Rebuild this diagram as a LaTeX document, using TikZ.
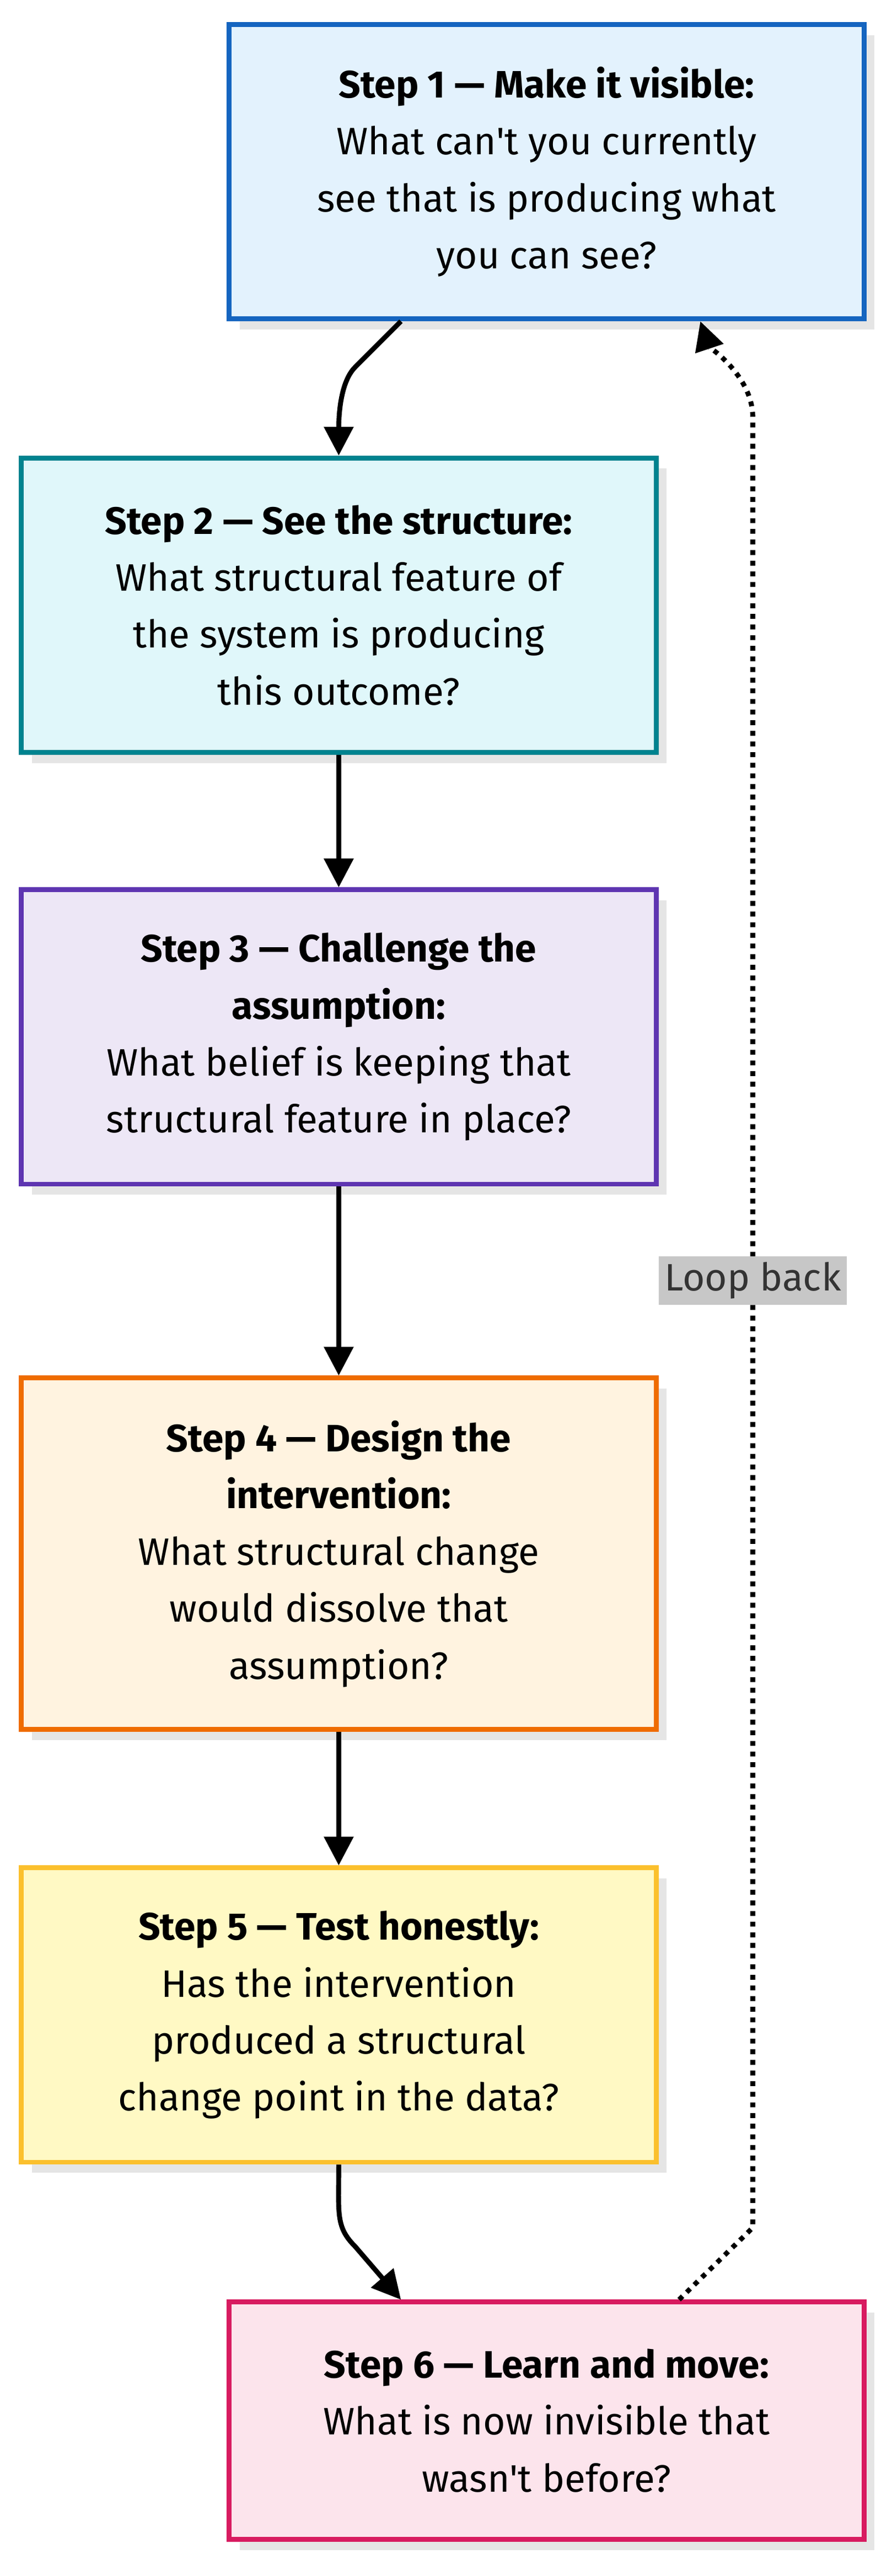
\documentclass[tikz,border=0pt]{standalone}
\usepackage{fontspec}
\setmainfont{Fira Sans}
\usetikzlibrary{arrows.meta,shadows}

\begin{document}
\begin{tikzpicture}[x=0.02cm,y=-0.02cm]
	\tikzset{
		stepbox/.style={draw,line width=1.7pt,minimum width=7.76cm,minimum height=3.6cm,
			align=center,inner sep=0pt,
			font=\fontsize{13.3}{19.8}\selectfont,
			drop shadow={shadow xshift=0.13cm,shadow yshift=-0.13cm,fill=black!10,opacity=1}},
		arr/.style={line width=1.7pt,-{Triangle[length=10pt,width=10pt]}}
	}
	\definecolor{bluef}{HTML}{E3F2FD}\definecolor{blued}{HTML}{1565C0}
	\definecolor{tealf}{HTML}{E0F7FA}\definecolor{teald}{HTML}{00838F}
	\definecolor{purpf}{HTML}{EDE7F6}\definecolor{purpd}{HTML}{5E35B1}
	\definecolor{orgf}{HTML}{FFF3E0}\definecolor{orgd}{HTML}{EF6C00}
	\definecolor{yelf}{HTML}{FFF9C4}\definecolor{yeld}{HTML}{FBC02D}
	\definecolor{pinkf}{HTML}{FCE4EC}\definecolor{pinkd}{HTML}{D81B60}
	\def\q{\textquotesingle}
	\useasboundingbox (0,0) rectangle (545,1575);
	% steps
	\node[stepbox,fill=bluef,draw=blued] (s1) at (334,105) {\textbf{Step 1 — Make it visible:}\\What can\q t you currently\\see that is producing what\\you can see?};
	\node[stepbox,fill=tealf,draw=teald] (s2) at (207,370) {\textbf{Step 2 — See the structure:}\\What structural feature of\\the system is producing\\this outcome?};
	\node[stepbox,fill=purpf,draw=purpd] (s3) at (207,634) {\textbf{Step 3 — Challenge the}\\\textbf{assumption:}\\What belief is keeping that\\structural feature in place?};
	\node[stepbox,fill=orgf,draw=orgd,minimum height=4.3cm] (s4) at (207,950) {\textbf{Step 4 — Design the}\\\textbf{intervention:}\\What structural change\\would dissolve that\\assumption?};
	\node[stepbox,fill=yelf,draw=yeld] (s5) at (207,1232) {\textbf{Step 5 — Test honestly:}\\Has the intervention\\produced a structural\\change point in the data?};
	\node[stepbox,fill=pinkf,draw=pinkd,minimum height=2.9cm] (s6) at (334,1480) {\textbf{Step 6 — Learn and move:}\\What is now invisible that\\wasn\q t before?};
	% arrows
	\draw[arr] ([xshift=-1.78cm]s1.south) -- ++(-28,28) .. controls +(-10,10) and +(0,-20) .. (s2.north);
	\draw[arr] (s2) -- (s3);
	\draw[arr] (s3) -- (s4);
	\draw[arr] (s4) -- (s5);
	\draw[arr] (s5.south) .. controls +(0,30) and +(-12,-12) .. ++(10,50) -- ([xshift=-1.78cm]s6.north);
	% loop back
	\coordinate (lb) at (460,1362);
	\coordinate (lt) at (460,255);
	\coordinate (lm) at (460,783);
	\draw[arr,dotted] ([xshift=1.62cm]s6.north) -- (lb) -- (lt) .. controls +(0,-25) and +(5,15) .. ([xshift=1.88cm]s1.south);
	\node[fill=black!22,inner sep=2pt,font=\fontsize{13.3}{15}\selectfont,text=black!80] (lbl) at (lm) {Loop back};
\end{tikzpicture}
\end{document}
